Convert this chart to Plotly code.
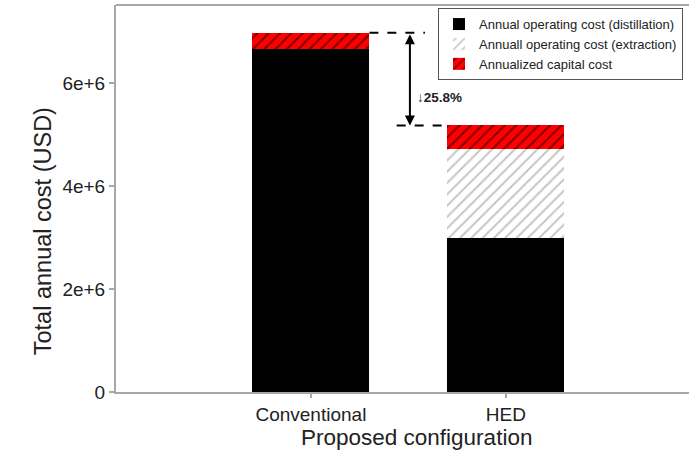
import plotly.graph_objects as go

# Cost breakdown per configuration (USD per year)
configs = ["Conventional", "HED"]
op_distillation = [6.66e6, 2.99e6]
op_extraction = [0.0, 1.74e6]
capital = [0.32e6, 0.45e6]

y_ticks = [0, 2e6, 4e6, 6e6]
y_tick_text = ["0", "2e+6", "4e+6", "6e+6"]

totals = [d + e + c for d, e, c in zip(op_distillation, op_extraction, capital)]
reduction = (totals[0] - totals[1]) / totals[0] * 100

font_family = "Liberation Sans, Arial, sans-serif"
axis_gray = "#a8a8a8"

fig = go.Figure()
fig.add_trace(go.Bar(
    x=configs, y=op_distillation, name="Annual operating cost (distillation)",
    marker=dict(color="black", line=dict(width=0)), width=0.6,
))
fig.add_trace(go.Bar(
    x=configs, y=op_extraction, name="Annuall operating cost (extraction)",
    marker=dict(color="white", line=dict(width=0),
                pattern=dict(shape="/", fgcolor="#8c8c8c", bgcolor="white",
                             size=8, solidity=0.25)),
    width=0.6,
))
fig.add_trace(go.Bar(
    x=configs, y=capital, name="Annualized capital cost",
    marker=dict(color="red", line=dict(width=0),
                pattern=dict(shape="/", fgcolor="black", bgcolor="red",
                             size=8, solidity=0.25)),
    width=0.6,
))

# Dashed reference lines at each total
fig.add_shape(type="line", x0=0.3, x1=0.585, y0=totals[0], y1=totals[0],
              line=dict(color="black", width=2, dash="dash"))
fig.add_shape(type="line", x0=0.44, x1=0.7, y0=totals[1], y1=totals[1],
              line=dict(color="black", width=2, dash="dash"))

# Double-headed arrow between the totals
fig.add_annotation(x=0.508, y=totals[1], ax=0.508, ay=totals[0],
                   xref="x", yref="y", axref="x", ayref="y",
                   showarrow=True, arrowhead=2, startarrowhead=2,
                   arrowside="end+start", arrowsize=1, arrowwidth=2,
                   arrowcolor="black", text="")
fig.add_annotation(x=0.535, y=(totals[0] + totals[1]) / 2 - 0.35e6,
                   xref="x", yref="y", xanchor="left", showarrow=False,
                   text=f"<b>↓{reduction:.1f}%</b>",
                   font=dict(size=13.5, color="#222", family=font_family))

# Axis titles
fig.add_annotation(text="Proposed configuration", xref="paper", yref="paper",
                   x=0.5236, y=-0.117, xanchor="center", yanchor="middle",
                   showarrow=False, font=dict(size=22.5, family=font_family, color="#222"))
fig.add_annotation(text="Total annual cost (USD)", xref="paper", yref="paper",
                   x=-0.127, y=0.416, xanchor="center", yanchor="middle", textangle=-90,
                   showarrow=False, font=dict(size=23.5, family=font_family, color="#222"))

fig.update_layout(
    barmode="stack",
    width=689, height=454,
    margin=dict(l=116, r=0, t=5, b=62),
    plot_bgcolor="white", paper_bgcolor="white",
    font=dict(family=font_family, color="#222"),
    showlegend=True,
    legend=dict(x=0.562, y=0.992, xanchor="left", yanchor="top",
                bordercolor="#555", borderwidth=1, bgcolor="white",
                font=dict(size=13, family=font_family),
                traceorder="normal", tracegroupgap=0, itemwidth=30),
    xaxis=dict(range=[-1, 1.94], showline=True, linecolor=axis_gray, linewidth=2,
               ticks="outside", ticklen=4, tickcolor=axis_gray, tickwidth=2,
               tickfont=dict(size=19), showgrid=False, mirror=False),
    yaxis=dict(range=[0, 7.52e6], showline=True, linecolor=axis_gray, linewidth=2,
               ticks="outside", ticklen=5, tickcolor=axis_gray, tickwidth=2,
               tickvals=y_ticks, ticktext=y_tick_text, tickfont=dict(size=19),
               showgrid=False, zeroline=False, mirror=False),
)

# Top frame edge
fig.add_shape(type="line", xref="paper", yref="paper", x0=0, x1=1, y0=1, y1=1,
              line=dict(color=axis_gray, width=2))

fig.write_html("out.html")
